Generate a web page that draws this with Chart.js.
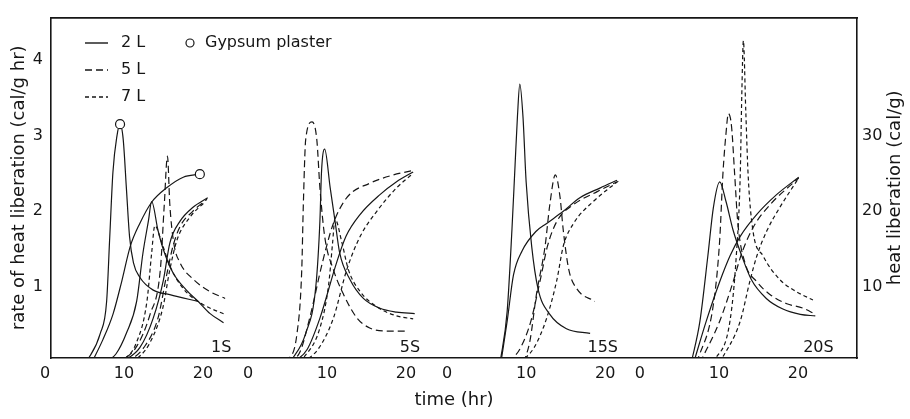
<!DOCTYPE html>
<html>
<head>
<meta charset="utf-8">
<script src="https://cdn.jsdelivr.net/npm/chart.js@4"></script>
<style>
  html, body { margin: 0; padding: 0; background: #fff; }
  canvas { display: block; }
</style>
</head>
<body>
<canvas id="c" width="910" height="419"></canvas>
<script>
// ---------- data ----------
const panelNames = ['1S', '5S', '15S', '20S'];
const panelOffsets = [0, 25.7, 50.9, 75.3];      // hours: where each panel's t=0 sits on the shared time axis
const panelLabelTime = [22.3, 20.5, 19.7, 22.6]; // panel-local time of the panel tag
const xTickValues = [0, 10, 20];
const xTickLabels = ['0', '10', '20'];
const rateTicks = [1, 2, 3, 4];
const heatTicks = [10, 20, 30];
const seriesNames = ['2 L', '5 L', '7 L'];

// rate of heat liberation (cal/g hr): [time (hr), value]
const rate1S_2L = [[7.5,0],[9.0,0.12],[10.3,0.39],[11.6,0.81],[12.4,1.45],[13.1,1.88],[13.5,2.13],[14.3,1.75],[15.0,1.49],[16.2,1.19],[17.9,0.96],[19.4,0.81],[20.9,0.65],[22.6,0.53]];
const rate1S_5L = [[9.1,0],[11.5,0.2],[13.3,0.64],[14.6,1.23],[15.1,2.09],[15.5,2.73],[15.8,2.09],[16.3,1.58],[17.1,1.32],[18.8,1.10],[20.9,0.94],[22.8,0.85]];
const rate1S_7L = [[9.5,0],[11.5,0.25],[12.9,0.81],[13.5,1.45],[13.9,1.81],[14.8,1.58],[15.8,1.28],[17.5,0.98],[20.0,0.77],[22.8,0.64]];
const rate5S_2L = [[5.3,0],[7.3,0.39],[8.6,1.03],[9.1,1.88],[9.3,2.52],[9.7,2.82],[10.4,2.31],[11.0,1.88],[11.6,1.45],[12.9,1.10],[14.6,0.85],[16.7,0.72],[18.8,0.67],[21.1,0.65]];
const rate5S_5L = [[4.9,0],[6.2,0.39],[6.8,1.23],[7.0,2.09],[7.3,2.95],[8.1,3.18],[8.7,2.95],[9.1,2.31],[9.7,1.67],[10.8,1.23],[12.1,0.90],[13.8,0.59],[15.4,0.46],[17.5,0.42],[20.1,0.42]];
const rate5S_7L = [[6.6,0],[9.1,0.46],[10.2,1.03],[10.7,1.58],[11.0,1.90],[11.9,1.58],[12.7,1.23],[14.2,0.94],[16.3,0.74],[18.8,0.62],[20.9,0.58]];
const rate15S_2L = [[6.7,0],[7.6,0.68],[8.2,1.75],[8.6,2.61],[8.9,3.25],[9.2,3.68],[9.6,3.25],[10.0,2.39],[10.7,1.54],[11.5,0.98],[13.0,0.64],[15.1,0.45],[18.1,0.39]];
const rate15S_5L = [[9.7,0],[10.5,0.3],[11.3,0.90],[12.4,1.54],[13.0,2.09],[13.7,2.48],[14.3,2.18],[14.7,1.75],[15.4,1.23],[16.4,0.98],[18.7,0.81]];
const rate20S_2L = [[6.5,0],[7.6,0.55],[8.6,1.41],[9.3,2.05],[10.1,2.39],[10.9,2.13],[11.8,1.75],[12.9,1.41],[14.1,1.10],[16.0,0.85],[18.1,0.71],[20.3,0.64],[22.2,0.62]];
const rate20S_5L = [[7.2,0],[9.3,0.77],[10.1,1.62],[10.5,2.48],[10.9,3.03],[11.2,3.29],[11.6,3.12],[12.0,2.48],[12.4,1.84],[13.3,1.32],[14.8,1.07],[16.5,0.90],[18.6,0.78],[20.7,0.72],[22.2,0.64]];
const rate20S_7L = [[9.3,0],[11.4,0.55],[12.2,1.41],[12.7,2.48],[12.9,3.55],[13.1,4.25],[13.4,3.33],[13.7,2.48],[14.3,1.75],[15.6,1.41],[17.7,1.10],[19.8,0.94],[21.9,0.83]];

// heat liberation (cal/g): [time (hr), value]
const heat1S_2L = [[9.5,0],[12.0,2.0],[13.7,5.9],[15.0,11.0],[15.8,15.8],[17.1,18.7],[18.7,20.5],[20.6,21.8]];
const heat1S_5L = [[10.3,0],[12.5,2.0],[14.3,5.9],[15.4,11.6],[16.2,15.4],[17.1,18.0],[18.7,20.0],[20.5,21.6]];
const heat1S_7L = [[11.1,0],[13.2,2.5],[14.9,7.2],[15.8,12.3],[16.7,16.2],[18.4,19.3],[20.3,21.3]];
const heat5S_2L = [[5.7,0],[7.5,1.8],[9.1,5.9],[11.2,13.2],[12.4,16.7],[14.2,19.6],[16.7,22.2],[18.8,23.9],[20.9,25.2]];
const heat5S_5L = [[5.1,0],[6.6,1.5],[7.8,5.9],[9.5,13.6],[10.8,18.4],[12.5,21.8],[15.4,23.7],[18.4,24.8],[20.9,25.4]];
const heat5S_7L = [[7.0,0],[9.0,2.0],[10.8,5.9],[12.5,12.3],[14.2,16.7],[16.3,20.0],[18.8,23.1],[20.9,25.0]];
const heat15S_2L = [[6.8,0],[7.6,5.5],[8.4,11.6],[9.5,14.8],[11.2,17.3],[12.6,18.4],[14.7,20.0],[16.8,21.8],[19.4,23.1],[21.5,24.1]];
const heat15S_5L = [[7.8,0],[9.3,2.0],[10.6,5.5],[11.8,11.0],[12.7,15.4],[13.9,18.7],[16.0,20.9],[19.0,22.6],[21.5,23.9]];
const heat15S_7L = [[9.2,0],[11.0,2.0],[12.6,5.9],[13.9,11.0],[14.7,15.4],[16.0,18.4],[18.5,21.3],[21.8,24.1]];
const heat20S_2L = [[6.8,0],[8.4,5.5],[10.1,10.7],[11.4,14.1],[12.7,16.7],[14.8,19.6],[17.3,22.2],[20.1,24.5]];
const heat20S_5L = [[7.6,0],[10.1,5.5],[11.8,10.7],[12.9,14.5],[14.4,18.0],[16.5,20.9],[20.1,24.4]];
const heat20S_7L = [[10.1,0],[12.7,5.5],[13.9,10.7],[14.8,14.1],[16.1,17.5],[17.7,20.5],[20.1,24.4]];

// gypsum plaster (panel 1S)
const gypsumRate = [[5.2,0],[7.0,0.39],[7.8,0.81],[8.2,1.67],[8.6,2.52],[9.1,2.99],[9.5,3.15],[9.9,2.95],[10.3,2.31],[10.7,1.67],[11.2,1.32],[12.0,1.13],[13.7,0.96],[15.8,0.90],[19.4,0.81]];
const gypsumHeat = [[5.9,0],[7.3,3.0],[8.6,6.4],[9.7,10.7],[10.8,15.4],[12.0,18.4],[13.5,21.2],[15.4,23.1],[17.5,24.5],[19.6,24.9]];

// ---------- chart ----------
const INK = '#161616';
const FONT = '"DejaVu Sans", sans-serif';
const dashes = [[], [7, 4], [4, 3]];

const rateSets = [
  [rate1S_2L, rate1S_5L, rate1S_7L],
  [rate5S_2L, rate5S_5L, rate5S_7L],
  [rate15S_2L, rate15S_5L, null],
  [rate20S_2L, rate20S_5L, rate20S_7L]
];
const heatSets = [
  [heat1S_2L, heat1S_5L, heat1S_7L],
  [heat5S_2L, heat5S_5L, heat5S_7L],
  [heat15S_2L, heat15S_5L, heat15S_7L],
  [heat20S_2L, heat20S_5L, heat20S_7L]
];

function toPts(arr, p) { return arr.map(([t, v]) => ({ x: t + panelOffsets[p], y: v })); }

const datasets = [];
rateSets.forEach((sets, p) => sets.forEach((arr, s) => {
  if (!arr) return;
  datasets.push({ label: panelNames[p] + ' ' + seriesNames[s] + ' rate', data: toPts(arr, p), yAxisID: 'y', borderDash: dashes[s] });
}));
heatSets.forEach((sets, p) => sets.forEach((arr, s) => {
  if (!arr) return;
  datasets.push({ label: panelNames[p] + ' ' + seriesNames[s] + ' heat', data: toPts(arr, p), yAxisID: 'y2', borderDash: dashes[s] });
}));
const gRateMark = gypsumRate.reduce((bi, d, i, a) => d[1] > a[bi][1] ? i : bi, 0);
datasets.push({ label: 'Gypsum plaster rate', data: toPts(gypsumRate, 0), yAxisID: 'y',
  pointRadius: c => c.dataIndex === gRateMark ? 4.5 : 0 });
datasets.push({ label: 'Gypsum plaster heat', data: toPts(gypsumHeat, 0), yAxisID: 'y2',
  pointRadius: c => c.dataIndex === gypsumHeat.length - 1 ? 4.5 : 0 });

datasets.forEach(d => {
  d.borderColor = INK; d.borderWidth = 1.2; d.fill = false;
  d.cubicInterpolationMode = 'monotone';
  d.pointBackgroundColor = '#fff'; d.pointBorderColor = INK; d.pointBorderWidth = 1.2;
  if (d.pointRadius === undefined) d.pointRadius = 0;
});

const RIGHT_TITLE = 'heat liberation (cal/g)';

const overlay = {
  id: 'overlay',
  afterDatasetsDraw(chart) {
    const { ctx, chartArea, scales: { x, y } } = chart;
    ctx.save();
    ctx.fillStyle = INK; ctx.strokeStyle = INK;
    ctx.font = '16px ' + FONT;
    ctx.textBaseline = 'middle';
    ctx.textAlign = 'center';
    panelNames.forEach((n, i) => {
      ctx.fillText(n, x.getPixelForValue(panelOffsets[i] + panelLabelTime[i]), y.getPixelForValue(0.2));
    });
    const rows = [43, 70, 97];
    seriesNames.forEach((n, i) => {
      ctx.lineWidth = 1.4;
      ctx.setLineDash(dashes[i]);
      ctx.beginPath(); ctx.moveTo(85, rows[i]); ctx.lineTo(108, rows[i]); ctx.stroke();
      ctx.setLineDash([]);
      ctx.textAlign = 'left';
      ctx.fillText(n, 121, rows[i]);
    });
    ctx.lineWidth = 1.2;
    ctx.beginPath(); ctx.arc(190, 43, 4, 0, Math.PI * 2); ctx.stroke();
    ctx.fillText('Gypsum plaster', 205, 43);
    // right axis title, reading bottom-to-top like the reference
    ctx.font = '18px ' + FONT;
    ctx.textAlign = 'center';
    ctx.translate(chart.width - 15, (chartArea.top + chartArea.bottom) / 2);
    ctx.rotate(-Math.PI / 2);
    ctx.fillText(RIGHT_TITLE, 0, 0);
    ctx.restore();
  }
};

const X_MIN = 0.76, X_MAX = 102.78;
Chart.defaults.font.family = FONT;
Chart.defaults.color = INK;

new Chart(document.getElementById('c'), {
  type: 'line',
  data: { datasets },
  options: {
    responsive: false,
    animation: false,
    layout: { padding: { top: 8, left: 0, right: 0, bottom: 0 } },
    plugins: { legend: { display: false }, tooltip: { enabled: false } },
    scales: {
      x: {
        type: 'linear', position: 'bottom', min: X_MIN, max: X_MAX,
        grid: { display: false, drawTicks: false },
        border: { display: true, color: INK, width: 1.6 },
        afterBuildTicks: s => { s.ticks = panelOffsets.flatMap(o => xTickValues.map(v => ({ value: o + v }))); },
        ticks: { autoSkip: false, maxRotation: 0, padding: 6, font: { size: 16 }, color: INK,
          callback: (v, i) => xTickLabels[i % xTickLabels.length] },
        title: { display: true, text: 'time (hr)', font: { size: 18 }, color: INK, padding: { top: 0, bottom: 8 } },
        afterFit: s => { s.height = 61; }
      },
      xTop: {
        type: 'linear', position: 'top', min: X_MIN, max: X_MAX,
        ticks: { display: false }, grid: { display: false, drawTicks: false },
        border: { display: true, color: INK, width: 1.8 },
        afterFit: s => { s.height = 0; }
      },
      y: {
        type: 'linear', position: 'left', min: 0.064, max: 4.557,
        grid: { display: false, drawTicks: false },
        border: { display: true, color: INK, width: 1.6 },
        afterBuildTicks: s => { s.ticks = rateTicks.map(v => ({ value: v })); },
        ticks: { padding: 8, font: { size: 16 }, color: INK },
        title: { display: true, text: 'rate of heat liberation (cal/g hr)', font: { size: 18 }, color: INK, padding: { top: 9, bottom: 0 } },
        afterFit: s => { s.width = 51; }
      },
      y2: {
        type: 'linear', position: 'right', min: 0.64, max: 45.57,
        grid: { display: false, drawTicks: false },
        border: { display: true, color: INK, width: 1.6 },
        afterBuildTicks: s => { s.ticks = heatTicks.map(v => ({ value: v })); },
        ticks: { padding: 5, font: { size: 16 }, color: INK },
        title: { display: false, text: RIGHT_TITLE },
        afterFit: s => { s.width = 53; }
      }
    }
  },
  plugins: [overlay]
});
</script>
</body>
</html>
